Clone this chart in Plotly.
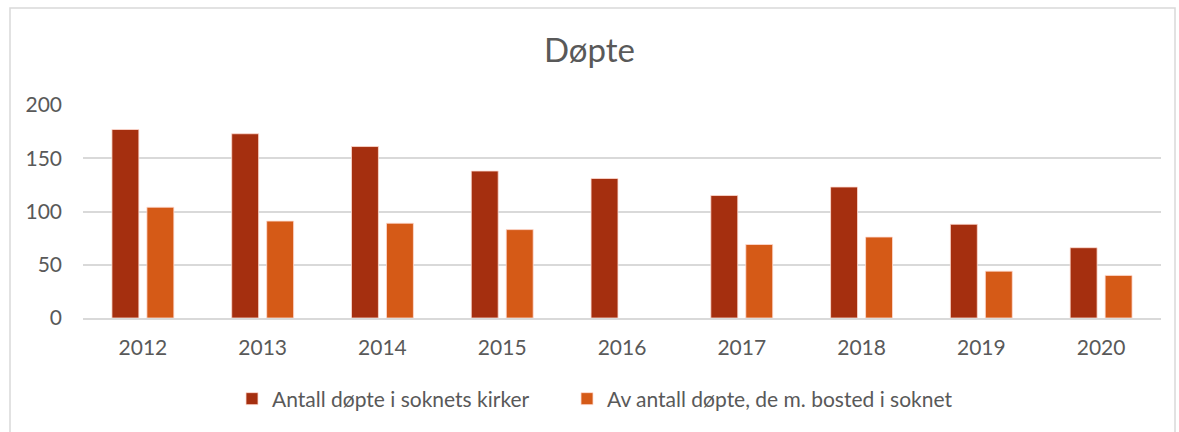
import plotly.graph_objects as go

years = ["2012", "2013", "2014", "2015", "2016", "2017", "2018", "2019", "2020"]
kirker = [177, 173, 161, 138, 131, 115, 123, 88, 66]
bosted = [104, 91, 89, 83, None, 69, 76, 44, 40]

series_names = ["Antall døpte i soknets kirker", "Av antall døpte, de m. bosted i soknet"]
colors = ["#A52F0F", "#D55A17"]

W, H = 1179, 432
ml, mr, mt, mb = 83, 18, 105, 114
pw, ph = W - ml - mr, H - mt - mb

font_family = "Lato, 'Open Sans', sans-serif"

fig = go.Figure()
legend_ids = ["legend", "legend2"]
legend_px = [232, 567]
for name, vals, col, lid in zip(series_names, [kirker, bosted], colors, legend_ids):
    fig.add_trace(go.Bar(
        x=years, y=vals, name=name, legend=lid,
        marker=dict(color=col, line=dict(color="rgba(255,220,210,0.8)", width=1)),
    ))

legend_common = dict(orientation="h", xanchor="left", y=(0 - 81) / ph, yanchor="middle",
                     font=dict(size=21, color="#595959"), itemwidth=30,
                     bgcolor="rgba(0,0,0,0)")

fig.update_layout(
    width=W, height=H,
    margin=dict(l=ml, r=mr, t=mt, b=mb),
    paper_bgcolor="white", plot_bgcolor="white",
    barmode="group", bargap=0.416, bargroupgap=0.23,
    title=dict(text="Døpte", x=0.5, xanchor="center", y=1 - 50 / H, yanchor="middle",
               font=dict(family=font_family, size=33, color="#595959")),
    font=dict(family=font_family, size=21, color="#595959"),
    xaxis=dict(showgrid=False, showline=True, linecolor="#D9D9D9", linewidth=2,
               ticks="", tickfont=dict(size=21, color="#595959"), ticklabelstandoff=10),
    yaxis=dict(range=[0, 200], dtick=50, showgrid=True, gridcolor="#D9D9D9", gridwidth=1.5,
               zeroline=False, showline=False, ticks="",
               tickfont=dict(size=21, color="#595959"), ticklabelstandoff=20),
    legend=dict(x=(legend_px[0] - ml) / pw, **legend_common),
    legend2=dict(x=(legend_px[1] - ml) / pw, **legend_common),
    showlegend=True,
)

fig.add_shape(type="rect", xref="paper", yref="paper",
              x0=(10 - ml) / pw, x1=(1175 - ml) / pw,
              y0=(H - mb - 440) / ph, y1=(H - mb - 8) / ph,
              line=dict(color="#D9D9D9", width=1.5), fillcolor="rgba(0,0,0,0)", layer="below")

fig.write_html("out.html", post_script="document.body.style.margin='0';",
               config={"displayModeBar": False})
